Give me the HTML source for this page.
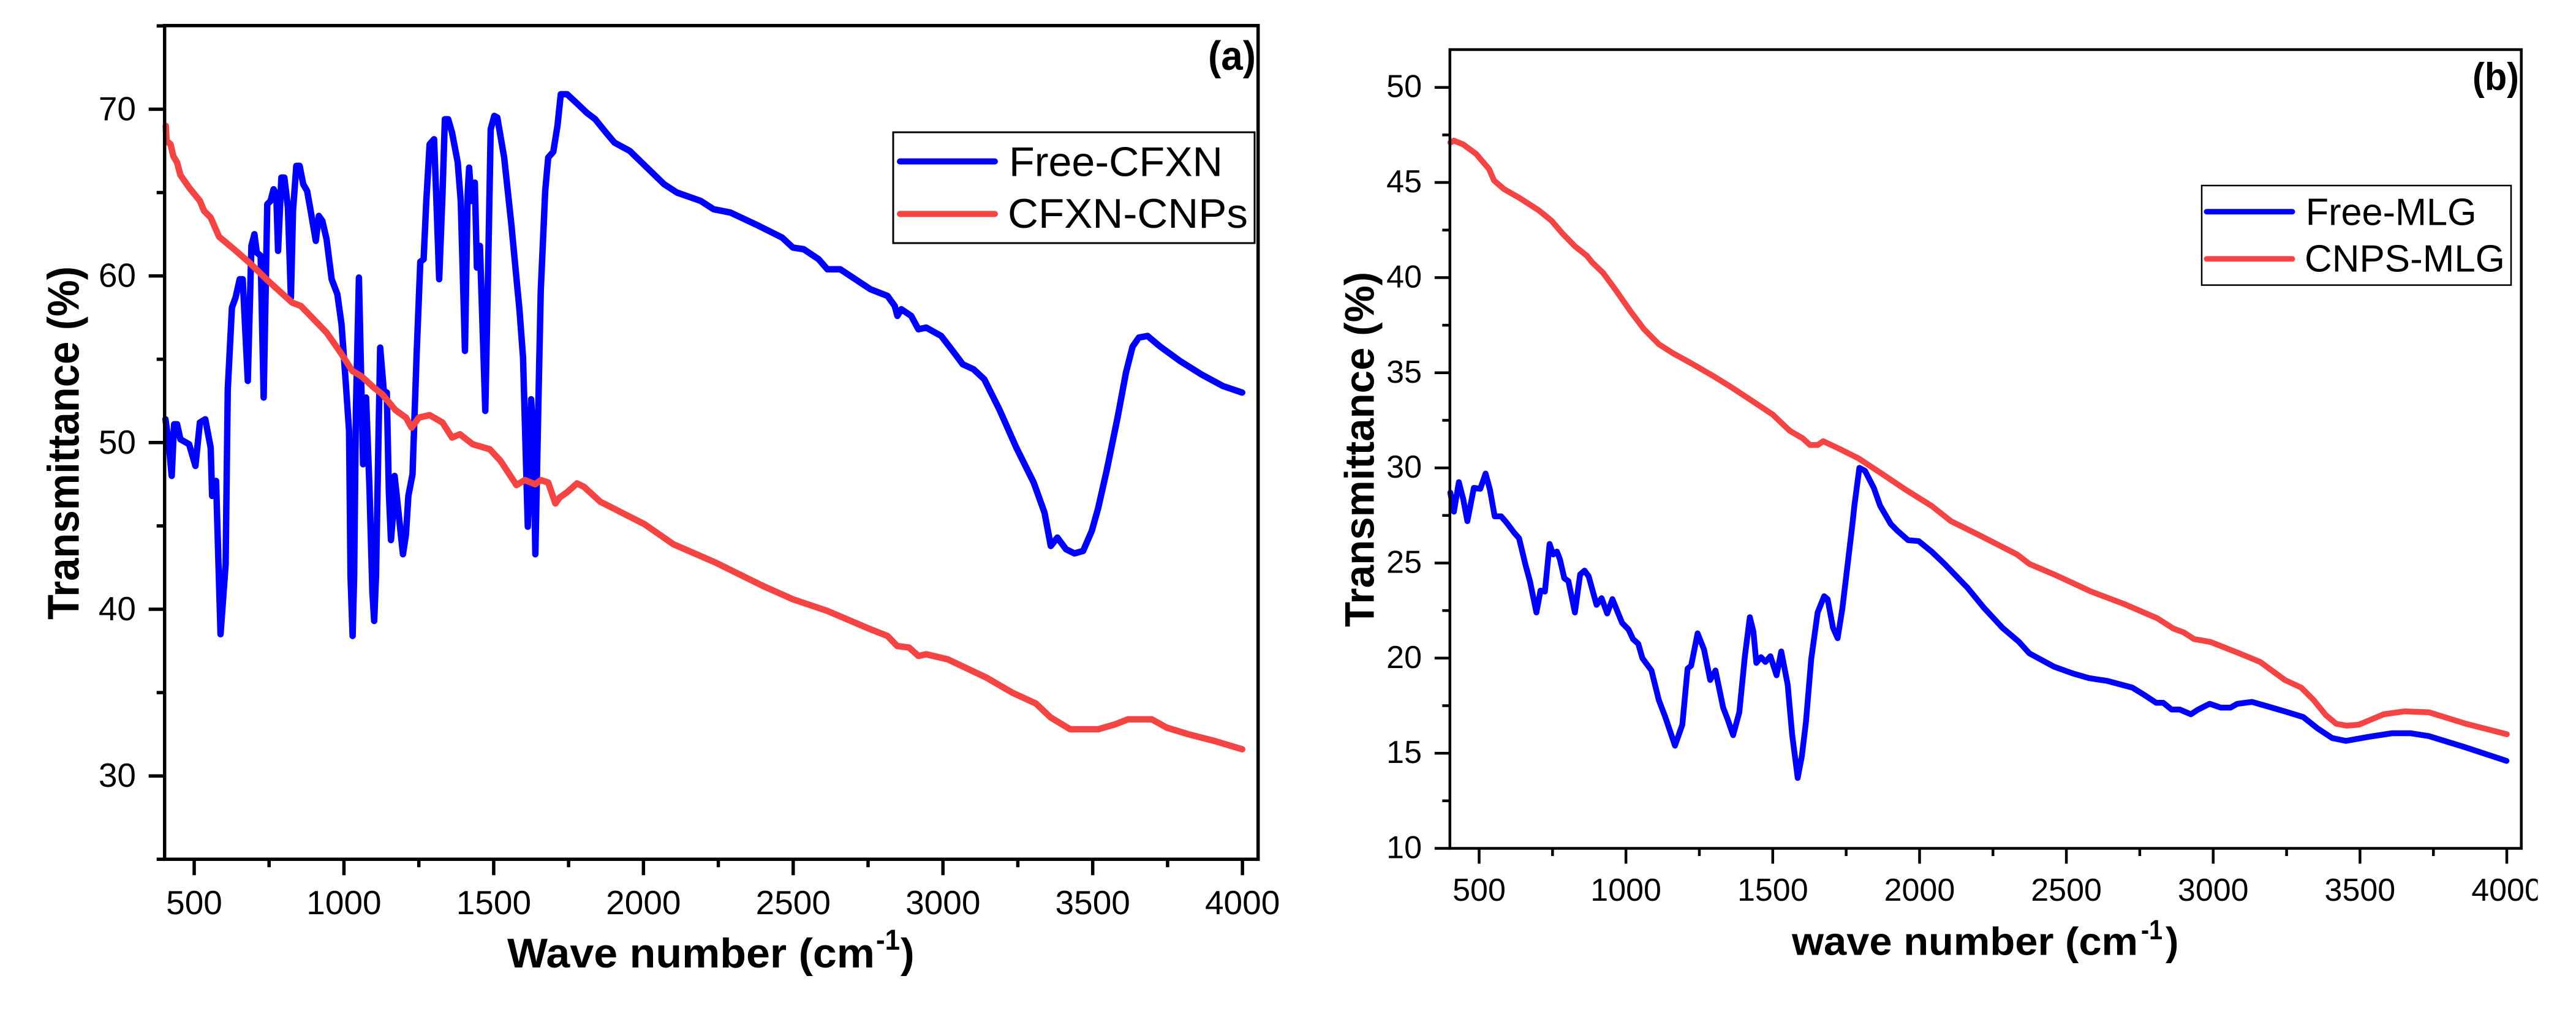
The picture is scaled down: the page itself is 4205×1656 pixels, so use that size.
<!DOCTYPE html>
<html lang="en">
<head>
<meta charset="utf-8">
<title>FTIR spectra of free and chitosan nanoparticle loaded drugs</title>
<style>
html,body{margin:0;padding:0;background:#fff;}
svg{display:block;}
text{font-family:"Liberation Sans",Arial,sans-serif;fill:#000;}
.b{font-weight:bold;}
</style>
</head>
<body>
<svg id="figure" width="4205" height="1656" viewBox="0 0 4205 1656" xmlns="http://www.w3.org/2000/svg">
<rect x="0" y="0" width="4205" height="1656" fill="#fff"/>
<defs><clipPath id="bClip"><rect x="2200" y="0" width="1942.6" height="1656"/></clipPath></defs>

<g id="panelA">
  <g id="seriesA"></g>
  <g id="axesA"></g>
  <text class="b" x="1972" y="114" font-size="67" textLength="78" lengthAdjust="spacingAndGlyphs">(a)</text>
  <text class="b" transform="translate(128.4,1012) rotate(-90)" font-size="72" textLength="577" lengthAdjust="spacingAndGlyphs">Transmittance (%)</text>
  <text class="b" x="828" y="1580" font-size="68" textLength="600" lengthAdjust="spacingAndGlyphs">Wave number (cm</text>
  <text class="b" x="1430" y="1551" font-size="47" textLength="39" lengthAdjust="spacingAndGlyphs">-1</text>
  <text class="b" x="1470" y="1580" font-size="68">)</text>
  <g>
    <rect x="1458" y="216" width="590" height="181" fill="#fff" stroke="#000" stroke-width="3"/>
    <line x1="1469" y1="263.6" x2="1624" y2="263.6" stroke="#0000ff" stroke-width="10" stroke-linecap="round"/>
    <text x="1647" y="287.5" font-size="68" textLength="349" lengthAdjust="spacingAndGlyphs">Free-CFXN</text>
    <line x1="1469" y1="349.4" x2="1624" y2="349.4" stroke="#f44444" stroke-width="10" stroke-linecap="round"/>
    <text x="1645" y="372" font-size="68" textLength="392" lengthAdjust="spacingAndGlyphs">CFXN-CNPs</text>
  </g>
</g>

<g id="panelB">
  <g id="seriesB"></g>
  <g id="axesB"></g>
  <text class="b" x="4036" y="147" font-size="63" textLength="76" lengthAdjust="spacingAndGlyphs">(b)</text>
  <text class="b" transform="translate(2242.6,1024) rotate(-90)" font-size="68" textLength="580" lengthAdjust="spacingAndGlyphs">Transmittance (%)</text>
  <text class="b" x="2925" y="1559.5" font-size="64" textLength="565" lengthAdjust="spacingAndGlyphs">wave number (cm</text>
  <text class="b" x="3495" y="1534" font-size="45" textLength="35" lengthAdjust="spacingAndGlyphs">-1</text>
  <text class="b" x="3535" y="1559.5" font-size="64">)</text>
  <g>
    <rect x="3594" y="303" width="505" height="162.6" fill="#fff" stroke="#000" stroke-width="2.5"/>
    <line x1="3602" y1="345.7" x2="3742" y2="345.7" stroke="#0000ff" stroke-width="9" stroke-linecap="round"/>
    <text x="3763.7" y="367.6" font-size="62" textLength="279" lengthAdjust="spacingAndGlyphs">Free-MLG</text>
    <line x1="3602" y1="422.8" x2="3742" y2="422.8" stroke="#f44444" stroke-width="9" stroke-linecap="round"/>
    <text x="3762" y="443.7" font-size="62" textLength="327" lengthAdjust="spacingAndGlyphs">CNPS-MLG</text>
  </g>
</g>

<script>
// ---- Panel (a) data ----
const freeCfxnWave = [404,414,425,433,443,454,483,504,519,537,555,560,573,588,605,612,626,638,652,662,679,691,701,709,722,732,744,755,765,774,780,791,801,813,823,830,841,852,864,877,887,906,916,928,942,959,978,992,1006,1017,1022,1029,1034,1040,1050,1064,1074,1085,1095,1101,1107,1115,1121,1133,1143,1150,1157,1163,1169,1178,1197,1207,1215,1229,1243,1255,1266,1275,1286,1301,1308,1318,1329,1337,1348,1361,1380,1390,1404,1413,1418,1426,1437,1444,1454,1472,1480,1490,1502,1512,1535,1559,1580,1586,1598,1606,1614,1625,1632,1639,1649,1657,1672,1682,1699,1713,1724,1745,1781,1810,1839,1875,1903,1954,2069,2112,2191,2234,2291,2385,2463,2499,2535,2585,2614,2657,2758,2815,2839,2848,2861,2894,2918,2944,2994,3037,3066,3102,3138,3188,3245,3303,3339,3360,3382,3411,3439,3468,3497,3518,3547,3583,3611,3633,3654,3683,3726,3791,3862,3934,3999];
const freeCfxnT = [51.4,50.1,48.0,51.1,51.1,50.2,49.9,48.6,51.2,51.4,49.7,46.8,47.7,38.5,42.7,53.2,58.1,58.7,59.8,59.8,53.7,61.8,62.5,61.4,61.2,52.7,64.3,64.5,65.2,64.9,61.5,65.9,65.9,64.1,58.7,63.9,66.6,66.6,65.5,65.1,64.1,62.1,63.6,63.3,62.2,59.8,58.9,57.1,53.6,50.7,42,38.4,42,52,59.9,48.7,52.7,47.4,41,39.3,42,50,55.7,53.1,53.0,47,44.15,45.5,48.0,46.5,43.3,44.5,46.8,48.1,55.5,60.85,61.0,64.5,67.9,68.2,64.9,59.8,64.9,69.4,69.4,68.6,66.8,64.5,55.5,64.9,66.5,64.5,65.6,60.5,61.8,51.9,59.0,68.8,69.6,69.5,67.1,63.1,59.1,58,55.1,50,44.95,52.6,50.5,43.3,52.1,59.1,65.1,67.1,67.45,69,70.9,70.9,70.3,69.8,69.4,68.6,68.0,67.5,65.5,65.0,64.5,64.0,63.8,63.0,62.3,61.7,61.6,61.0,60.4,60.4,59.2,58.8,58.2,57.6,58.0,57.6,56.8,56.9,56.4,55.4,54.7,54.4,53.8,52.0,49.7,47.6,45.8,43.8,44.3,43.6,43.35,43.5,44.7,46.05,48.35,51.5,54.2,55.75,56.3,56.4,55.75,54.9,54.1,53.4,53.0];
const cfxnCnpsWave = [405,408,421,430,443,454,483,519,533,555,583,633,684,741,784,827,856,899,942,985,1028,1057,1100,1128,1172,1207,1226,1250,1286,1329,1361,1387,1430,1487,1523,1576,1604,1638,1658,1682,1706,1720,1747,1778,1801,1856,1889,2004,2100,2241,2399,2499,2614,2758,2815,2847,2887,2918,2944,3016,3145,3231,3310,3360,3425,3518,3576,3618,3697,3747,3820,3906,3999];
const cfxnCnpsT = [69.0,68.1,67.9,67.2,66.8,66.05,65.3,64.5,63.9,63.5,62.35,61.6,60.8,59.8,59.1,58.4,58.2,57.4,56.6,55.5,54.3,54,53.3,52.9,51.95,51.5,50.9,51.5,51.65,51.2,50.3,50.5,49.9,49.6,48.9,47.45,47.75,47.5,47.75,47.6,46.35,46.7,47.05,47.55,47.35,46.45,46.15,45.1,43.9,42.8,41.4,40.6,39.9,38.8,38.4,37.8,37.7,37.2,37.3,37.0,35.9,35.0,34.35,33.5,32.8,32.8,33.1,33.4,33.4,32.9,32.5,32.1,31.6];
const yMajorA = [30,40,50,60,70];
const yMinorA = [25,35,45,55,65,75];
const xMajorA = [500,1000,1500,2000,2500,3000,3500,4000];
const xMinorA = [750,1250,1750,2250,2750,3250,3750];

// ---- Panel (b) data ----
const freeMlgWave = [402,414,431,446,460,482,504,522,537,553,575,592,619,636,658,673,695,709,724,740,752,765,775,790,804,826,844,859,873,900,917,936,954,987,1009,1024,1042,1056,1087,1112,1134,1167,1192,1210,1222,1244,1266,1287,1305,1331,1346,1365,1386,1405,1422,1434,1444,1460,1475,1492,1513,1529,1551,1566,1585,1599,1613,1631,1653,1675,1687,1705,1721,1737,1756,1771,1778,1795,1814,1844,1866,1902,1924,1961,1997,2041,2085,2163,2219,2282,2339,2374,2458,2521,2577,2640,2725,2767,2806,2830,2858,2886,2924,2949,2988,3026,3059,3082,3132,3188,3244,3307,3356,3405,3452,3525,3609,3672,3735,3861,3999];
const freeMlgT = [28.7,27.7,29.25,28.35,27.2,28.95,28.9,29.7,28.85,27.45,27.45,27.15,26.6,26.3,24.9,24.05,22.4,23.55,23.5,26.0,25.45,25.6,25.2,24.2,24.05,22.4,24.4,24.6,24.3,22.8,23.15,22.35,23.1,21.85,21.5,21.0,20.75,20.0,19.35,17.8,16.9,15.4,16.5,19.45,19.6,21.3,20.45,18.85,19.35,17.4,16.8,15.95,17.15,20.1,22.15,21.4,19.75,20.05,19.8,20.1,19.1,20.35,18.6,16.0,13.7,14.85,16.65,19.95,22.4,23.25,23.1,21.6,21.05,22.6,25.05,27.0,28.0,30.0,29.85,28.95,28.0,27.05,26.7,26.2,26.15,25.6,24.95,23.7,22.65,21.6,20.85,20.25,19.55,19.2,18.95,18.8,18.45,18.05,17.65,17.65,17.3,17.3,17.05,17.3,17.6,17.4,17.4,17.6,17.7,17.45,17.2,16.9,16.3,15.8,15.65,15.85,16.05,16.05,15.9,15.3,14.6];
const cnpsMlgWave = [402,414,446,490,534,551,585,636,702,746,782,826,867,885,922,965,1017,1061,1112,1163,1222,1295,1353,1427,1500,1558,1602,1627,1653,1672,1727,1792,1866,1953,2041,2107,2205,2332,2374,2458,2584,2696,2809,2865,2900,2935,2991,3089,3160,3244,3300,3342,3384,3419,3454,3496,3581,3651,3735,3861,4000];
const cnpsMlgT = [47.1,47.2,47.0,46.5,45.7,45.1,44.65,44.2,43.55,43.0,42.35,41.65,41.15,40.8,40.25,39.35,38.2,37.3,36.5,36.0,35.5,34.85,34.3,33.55,32.8,31.95,31.55,31.2,31.2,31.4,31.0,30.5,29.75,28.85,28.0,27.2,26.45,25.45,24.95,24.4,23.5,22.85,22.1,21.55,21.35,21.0,20.85,20.25,19.8,18.85,18.45,17.8,17.0,16.55,16.45,16.5,17.05,17.2,17.15,16.55,16.0];
const yMajorB = [10,15,20,25,30,35,40,45,50];
const yMinorB = [12.5,17.5,22.5,27.5,32.5,37.5,42.5,47.5];
const xMajorB = [500,1000,1500,2000,2500,3000,3500,4000];
const xMinorB = [750,1250,1750,2250,2750,3250,3750];

// ---- Axis functions ----
const NS = 'http://www.w3.org/2000/svg';
const xA = w => 317 + (w - 500) * 0.4889;
const yA = v => 178.4 + (70 - v) * 27.22;
const xB = w => 2414.5 + (w - 500) * 0.4793;
const yB = v => 142.7 + (50 - v) * 31.07;

function make(tag, parent, attrs) {
  const el = document.createElementNS(NS, tag);
  for (const k in attrs) el.setAttribute(k, attrs[k]);
  parent.appendChild(el);
  return el;
}
function pathFrom(waves, vals, fx, fy) {
  return waves.map((w, i) => (i ? 'L' : 'M') + fx(w).toFixed(1) + ' ' + fy(vals[i]).toFixed(1)).join(' ');
}
function drawSeries(parent, waves, vals, fx, fy, color, width, name) {
  const p = make('path', parent, {d: pathFrom(waves, vals, fx, fy), fill: 'none', stroke: color, 'stroke-width': width, 'stroke-linejoin': 'round', 'stroke-linecap': 'round'});
  
  
}
function drawAxes(parent, o) {
  const frame = make('rect', parent, {x: o.left, y: o.top, width: o.right - o.left, height: o.bottom - o.top, fill: 'none', stroke: '#000', 'stroke-width': o.sw});
  
  
  o.yMajor.forEach(v => {
    const t = make('line', parent, {x1: o.left - o.major, x2: o.left, y1: o.fy(v), y2: o.fy(v), stroke: '#000', 'stroke-width': o.sw});
    
    
    const l = make('text', parent, {x: o.yLabelX, y: o.fy(v) + o.yOff, 'text-anchor': 'end', 'font-size': o.fs});
    l.textContent = String(v);
    
    
  });
  o.yMinor.forEach(v => {
    const t = make('line', parent, {x1: o.left - o.minor, x2: o.left, y1: o.fy(v), y2: o.fy(v), stroke: '#000', 'stroke-width': o.sw});
    
    
  });
  o.xMajor.forEach(w => {
    const t = make('line', parent, {x1: o.fx(w), x2: o.fx(w), y1: o.bottom, y2: o.bottom + o.major, stroke: '#000', 'stroke-width': o.sw});
    
    
    const l = make('text', parent, {x: o.fx(w), y: o.xLabelY, 'text-anchor': 'middle', 'font-size': o.fs});
    if (o.clip) l.setAttribute('clip-path', o.clip);
    l.textContent = String(w);
    
    
  });
  o.xMinor.forEach(w => {
    const t = make('line', parent, {x1: o.fx(w), x2: o.fx(w), y1: o.bottom, y2: o.bottom + o.minor, stroke: '#000', 'stroke-width': o.sw});
    
    
  });
}

const sA = document.getElementById('seriesA');
drawSeries(sA, freeCfxnWave, freeCfxnT, xA, yA, '#0000ff', 10.5, 'series-free-cfxn');
drawSeries(sA, cfxnCnpsWave, cfxnCnpsT, xA, yA, '#f44444', 10.5, 'series-cfxn-cnps');
drawAxes(document.getElementById('axesA'), {left: 268.7, right: 2053.7, top: 41.8, bottom: yA(25), sw: 5.5, major: 26, minor: 13, fx: xA, fy: yA, yMajor: yMajorA, yMinor: yMinorA, xMajor: xMajorA, xMinor: xMinorA, fs: 55, yLabelX: 222, yOff: 18, xLabelY: 1493});

const sB = document.getElementById('seriesB');
drawSeries(sB, freeMlgWave, freeMlgT, xB, yB, '#0000ff', 9.5, 'series-free-mlg');
drawSeries(sB, cnpsMlgWave, cnpsMlgT, xB, yB, '#f44444', 9.5, 'series-cnps-mlg');
drawAxes(document.getElementById('axesB'), {left: 2366.8, right: 4115.7, top: 81, bottom: yB(10), sw: 4.5, major: 25, minor: 12.5, fx: xB, fy: yB, yMajor: yMajorB, yMinor: yMinorB, xMajor: xMajorB, xMinor: xMinorB, fs: 52, yLabelX: 2321, yOff: 16, xLabelY: 1471, clip: 'url(#bClip)'});
</script>
</svg>
</body>
</html>
